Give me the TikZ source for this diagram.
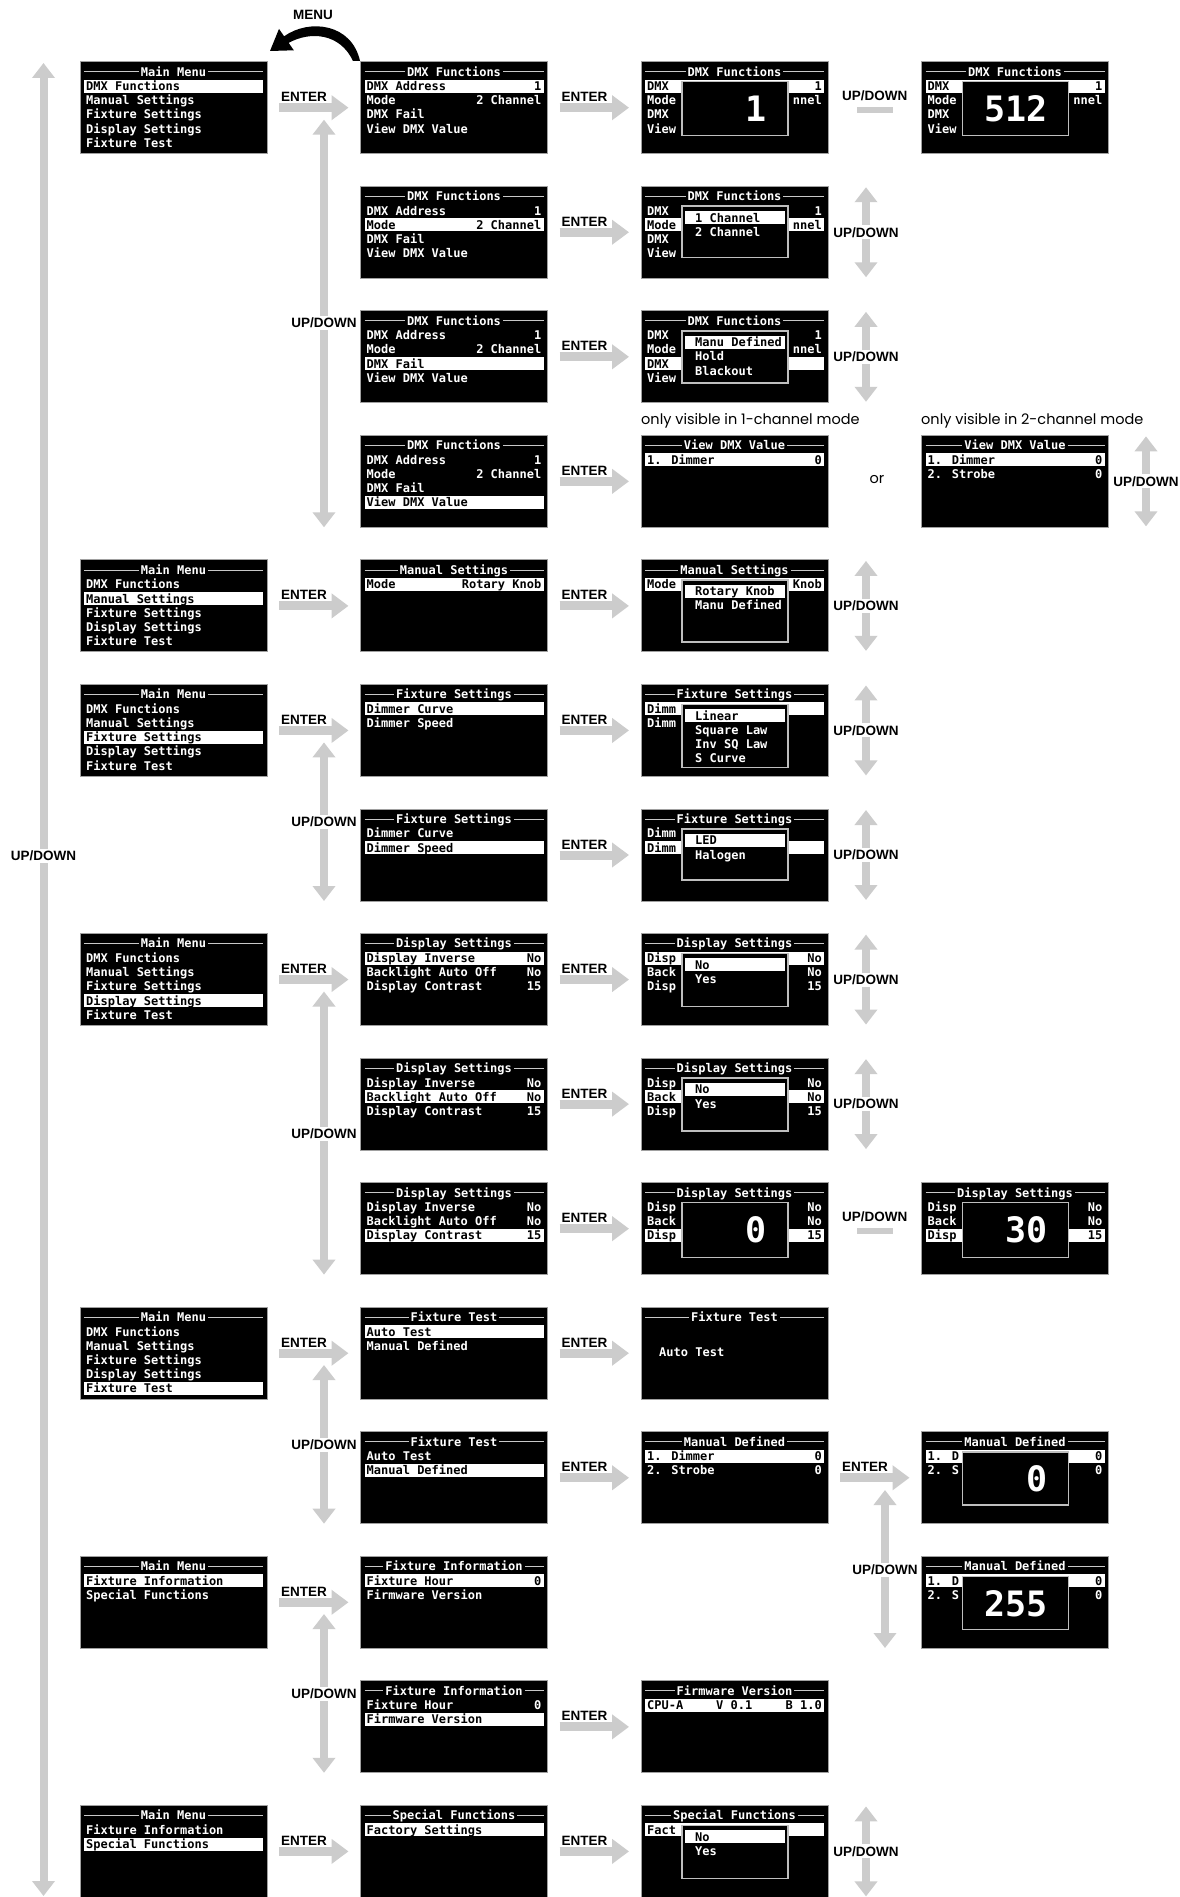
\documentclass[tikz,border=0pt]{standalone}
\usepackage{fontspec}
\setmainfont{Liberation Sans}
\newfontfamily\scrfont{DejaVu Sans Mono}
\newfontfamily\notefont{Poppins}
\usetikzlibrary{arrows.meta,calc}
\definecolor{agray}{RGB}{204,204,204}
\definecolor{bgray}{RGB}{160,160,160}
\definecolor{pgray}{RGB}{190,190,190}
\definecolor{tgray}{RGB}{200,200,200}
\tikzset{
 screen/.style={draw=bgray, fill=black, line width=1pt, minimum width=187pt, minimum height=92pt, inner sep=0pt, outer sep=0pt},
 txt/.style={text=white, font=\scrfont\bfseries\fontsize{12}{14}\selectfont, inner sep=0pt, text height=8.8pt, text depth=0pt},
 htxt/.style={txt, text=black},
 ttl/.style={txt, fill=black, inner xsep=2pt, inner ysep=1pt},
 bignum/.style={text=white, font=\scrfont\bfseries\fontsize{35}{35}\selectfont, inner sep=0pt},
 lbl/.style={font=\bfseries\fontsize{13.5}{14}\selectfont, inner sep=0pt},
 ulbl/.style={lbl, fill=white, inner xsep=0pt, inner ysep=2pt},
 note/.style={font=\notefont\fontsize{14.5}{15}\selectfont, inner sep=0pt},
 harrow/.style={draw=agray, line width=9pt, -{Triangle[length=17pt,width=24pt]}},
 varrow/.style={draw=agray, line width=8pt, {Triangle[length=15pt,width=22pt]}-{Triangle[length=15pt,width=22pt]}},
 udbar/.style={draw=agray, line width=6pt},
 popbox/.style={draw=pgray, line width=1.5pt, fill=black},
}
% screen: name, col, row, title
\newcommand\MkScr[4]{%
 \pgfmathsetmacro\scrX{80+(#2-1)*280.5}%
 \pgfmathsetmacro\scrY{61.7+(#3-1)*124.55}%
 \node[screen, anchor=north west] (#1) at (\scrX,\scrY) {};
 \draw[tgray, line width=0.8pt] ([xshift=4pt,yshift=-10pt]#1.north west) -- ([xshift=-4pt,yshift=-10pt]#1.north east);
 \node[ttl] at ([yshift=-10pt]#1.north) {#4};}
\newcommand\SLine[4]{%
 \pgfmathsetmacro\oy{24.5+(#2-1)*14.2}%
 \node[txt, anchor=west] at ([xshift=6pt,yshift=-\oy pt]#1.north west) {#3};
 \node[txt, anchor=east] at ([xshift=-6pt,yshift=-\oy pt]#1.north east) {#4};}
\newcommand\SHLine[4]{%
 \pgfmathsetmacro\oy{24.5+(#2-1)*14.2}%
 \fill[white] ([xshift=4pt,yshift=-\oy pt+6.5pt]#1.north west) rectangle ([xshift=-4pt,yshift=-\oy pt-6.5pt]#1.north east);
 \node[htxt, anchor=west] at ([xshift=6pt,yshift=-\oy pt]#1.north west) {#3};
 \node[htxt, anchor=east] at ([xshift=-6pt,yshift=-\oy pt]#1.north east) {#4};}
\newcommand\Row[5]{\ifnum#2=#3 \SHLine{#1}{#2}{#4}{#5}\else\SLine{#1}{#2}{#4}{#5}\fi}
\newcommand\SPop[2]{\draw[popbox] ([xshift=41pt,yshift=-20pt]#1.north west) rectangle ([xshift=147pt,yshift=-#2pt]#1.north west);}
\newcommand\SPItem[3]{%
 \pgfmathsetmacro\oy{31.4+(#2-1)*14.2}%
 \node[txt, anchor=west] at ([xshift=54pt,yshift=-\oy pt]#1.north west) {#3};}
\newcommand\SPHItem[3]{%
 \pgfmathsetmacro\oy{31.4+(#2-1)*14.2}%
 \fill[white] ([xshift=44pt,yshift=-\oy pt+6.5pt]#1.north west) rectangle ([xshift=144pt,yshift=-\oy pt-6.5pt]#1.north west);
 \node[htxt, anchor=west] at ([xshift=54pt,yshift=-\oy pt]#1.north west) {#3};}
\newcommand\SBig[2]{\node[bignum, anchor=base east] at ([xshift=126pt,yshift=-60pt]#1.north west) {#2};}
\newcommand\SEnter[2]{%
 \draw[harrow] ([xshift=12pt]#1.east) -- ([xshift=-12pt]#2.west);
 \node[lbl, anchor=base west] at ([xshift=14pt,yshift=6pt]#1.east) {ENTER};}
\newcommand\SUDBar[2]{%
 \draw[udbar] ([xshift=29pt,yshift=-2pt]#1.east) -- ([xshift=-29pt,yshift=-2pt]#2.west);
 \path ($(#1.east)!0.5!(#2.west)$) coordinate (#1m);
 \node[lbl] at ([yshift=12pt]#1m) {UP/DOWN};}
\newcommand\SVArr[5]{%
 \coordinate (#1a) at (#2,#3); \coordinate (#1b) at (#2,#4);
 \draw[varrow] (#1a) -- (#1b);
 \node[ulbl] at (#2,#5) {UP/DOWN};}
\newcommand\SRArr[2]{%
 \pgfmathsetmacro\ta{61.7+(#1-1)*124.55+1}%
 \pgfmathsetmacro\tb{\ta+90}%
 \pgfmathsetmacro\tc{\ta+45}%
 \coordinate (ra#1) at (#2,\ta); \coordinate (rb#1) at (#2,\tb);
 \draw[varrow] (ra#1) -- (rb#1);
 \node[ulbl] at (#2,\tc) {UP/DOWN};}
% screen types: name col row highlighted-line
\newcommand\MainA[4]{\MkScr{#1}{#2}{#3}{Main Menu}\Row{#1}{1}{#4}{DMX Functions}{}\Row{#1}{2}{#4}{Manual Settings}{}\Row{#1}{3}{#4}{Fixture Settings}{}\Row{#1}{4}{#4}{Display Settings}{}\Row{#1}{5}{#4}{Fixture Test}{}}
\newcommand\MainB[4]{\MkScr{#1}{#2}{#3}{Main Menu}\Row{#1}{1}{#4}{Fixture Information}{}\Row{#1}{2}{#4}{Special Functions}{}}
\newcommand\DmxF[4]{\MkScr{#1}{#2}{#3}{DMX Functions}\Row{#1}{1}{#4}{DMX Address}{1}\Row{#1}{2}{#4}{Mode}{2 Channel}\Row{#1}{3}{#4}{DMX Fail}{}\Row{#1}{4}{#4}{View DMX Value}{}}
\newcommand\DmxP[4]{\MkScr{#1}{#2}{#3}{DMX Functions}\Row{#1}{1}{#4}{DMX}{1}\Row{#1}{2}{#4}{Mode}{nnel}\Row{#1}{3}{#4}{DMX}{}\Row{#1}{4}{#4}{View}{}}
\newcommand\FixS[4]{\MkScr{#1}{#2}{#3}{Fixture Settings}\Row{#1}{1}{#4}{Dimmer Curve}{}\Row{#1}{2}{#4}{Dimmer Speed}{}}
\newcommand\FixSP[4]{\MkScr{#1}{#2}{#3}{Fixture Settings}\Row{#1}{1}{#4}{Dimm}{}\Row{#1}{2}{#4}{Dimm}{}}
\newcommand\DispS[4]{\MkScr{#1}{#2}{#3}{Display Settings}\Row{#1}{1}{#4}{Display Inverse}{No}\Row{#1}{2}{#4}{Backlight Auto Off}{No}\Row{#1}{3}{#4}{Display Contrast}{15}}
\newcommand\DispSP[4]{\MkScr{#1}{#2}{#3}{Display Settings}\Row{#1}{1}{#4}{Disp}{No}\Row{#1}{2}{#4}{Back}{No}\Row{#1}{3}{#4}{Disp}{15}}
\newcommand\FixT[4]{\MkScr{#1}{#2}{#3}{Fixture Test}\Row{#1}{1}{#4}{Auto Test}{}\Row{#1}{2}{#4}{Manual Defined}{}}
\newcommand\ManD[4]{\MkScr{#1}{#2}{#3}{Manual Defined}\Row{#1}{1}{#4}{1. Dimmer}{0}\Row{#1}{2}{#4}{2. Strobe}{0}}
\newcommand\ManDP[4]{\MkScr{#1}{#2}{#3}{Manual Defined}\Row{#1}{1}{#4}{1. D}{0}\Row{#1}{2}{#4}{2. S}{0}}
\newcommand\FixI[4]{\MkScr{#1}{#2}{#3}{Fixture Information}\Row{#1}{1}{#4}{Fixture Hour}{0}\Row{#1}{2}{#4}{Firmware Version}{}}

\begin{document}
\begin{tikzpicture}[x=1pt,y=-1pt]
\fill[white, use as bounding box] (0,0) rectangle (1179,1897);

% ---------- screens ----------
\MainA{r1c1}{1}{1}{1}
\DmxF{r1c2}{2}{1}{1}
\DmxP{r1c3}{3}{1}{1}\SPop{r1c3}{74}\SBig{r1c3}{1}
\DmxP{r1c4}{4}{1}{1}\SPop{r1c4}{74}\SBig{r1c4}{512}
\DmxF{r2c2}{2}{2}{2}
\DmxP{r2c3}{3}{2}{2}\SPop{r2c3}{71}\SPHItem{r2c3}{1}{1 Channel}\SPItem{r2c3}{2}{2 Channel}
\DmxF{r3c2}{2}{3}{3}
\DmxP{r3c3}{3}{3}{3}\SPop{r3c3}{72}\SPHItem{r3c3}{1}{Manu Defined}\SPItem{r3c3}{2}{Hold}\SPItem{r3c3}{3}{Blackout}
\DmxF{r4c2}{2}{4}{4}
\MkScr{r4c3}{3}{4}{View DMX Value}\SHLine{r4c3}{1}{1. Dimmer}{0}
\MkScr{r4c4}{4}{4}{View DMX Value}\SHLine{r4c4}{1}{1. Dimmer}{0}\SLine{r4c4}{2}{2. Strobe}{0}
\MainA{r5c1}{1}{5}{2}
\MkScr{r5c2}{2}{5}{Manual Settings}\SHLine{r5c2}{1}{Mode}{Rotary Knob}
\MkScr{r5c3}{3}{5}{Manual Settings}\SHLine{r5c3}{1}{Mode}{Knob}\SPop{r5c3}{82}\SPHItem{r5c3}{1}{Rotary Knob}\SPItem{r5c3}{2}{Manu Defined}
\MainA{r6c1}{1}{6}{3}
\FixS{r6c2}{2}{6}{1}
\FixSP{r6c3}{3}{6}{1}\SPop{r6c3}{83}\SPHItem{r6c3}{1}{Linear}\SPItem{r6c3}{2}{Square Law}\SPItem{r6c3}{3}{Inv SQ Law}\SPItem{r6c3}{4}{S Curve}
\FixS{r7c2}{2}{7}{2}
\FixSP{r7c3}{3}{7}{2}\SPop{r7c3}{71}\SPHItem{r7c3}{1}{LED}\SPItem{r7c3}{2}{Halogen}
\MainA{r8c1}{1}{8}{4}
\DispS{r8c2}{2}{8}{1}
\DispSP{r8c3}{3}{8}{1}\SPop{r8c3}{73}\SPHItem{r8c3}{1}{No}\SPItem{r8c3}{2}{Yes}
\DispS{r9c2}{2}{9}{2}
\DispSP{r9c3}{3}{9}{2}\SPop{r9c3}{73}\SPHItem{r9c3}{1}{No}\SPItem{r9c3}{2}{Yes}
\DispS{r10c2}{2}{10}{3}
\DispSP{r10c3}{3}{10}{3}\SPop{r10c3}{75}\SBig{r10c3}{0}
\DispSP{r10c4}{4}{10}{3}\SPop{r10c4}{75}\SBig{r10c4}{30}
\MainA{r11c1}{1}{11}{5}
\FixT{r11c2}{2}{11}{1}
\MkScr{r11c3}{3}{11}{Fixture Test}\node[txt,anchor=west] at ([xshift=18pt,yshift=-45pt]r11c3.north west) {Auto Test};
\FixT{r12c2}{2}{12}{2}
\ManD{r12c3}{3}{12}{1}
\ManDP{r12c4}{4}{12}{1}\SPop{r12c4}{73}\SBig{r12c4}{0}
\MainB{r13c1}{1}{13}{1}
\FixI{r13c2}{2}{13}{1}
\ManDP{r13c4}{4}{13}{1}\SPop{r13c4}{73}\SBig{r13c4}{255}
\FixI{r14c2}{2}{14}{2}
\MkScr{r14c3}{3}{14}{Firmware Version}\SHLine{r14c3}{1}{CPU-A}{B 1.0}\node[htxt,anchor=west] at ([xshift=75pt,yshift=-24.5pt]r14c3.north west) {V 0.1};
\MainB{r15c1}{1}{15}{2}
\MkScr{r15c2}{2}{15}{Special Functions}\SHLine{r15c2}{1}{Factory Settings}{}
\MkScr{r15c3}{3}{15}{Special Functions}\SHLine{r15c3}{1}{Fact}{}\SPop{r15c3}{73}\SPHItem{r15c3}{1}{No}\SPItem{r15c3}{2}{Yes}

% ---------- ENTER arrows ----------
\SEnter{r1c1}{r1c2}\SEnter{r1c2}{r1c3}
\SEnter{r2c2}{r2c3}\SEnter{r3c2}{r3c3}\SEnter{r4c2}{r4c3}
\SEnter{r5c1}{r5c2}\SEnter{r5c2}{r5c3}
\SEnter{r6c1}{r6c2}\SEnter{r6c2}{r6c3}\SEnter{r7c2}{r7c3}
\SEnter{r8c1}{r8c2}\SEnter{r8c2}{r8c3}\SEnter{r9c2}{r9c3}\SEnter{r10c2}{r10c3}
\SEnter{r11c1}{r11c2}\SEnter{r11c2}{r11c3}\SEnter{r12c2}{r12c3}\SEnter{r12c3}{r12c4}
\SEnter{r13c1}{r13c2}\SEnter{r14c2}{r14c3}
\SEnter{r15c1}{r15c2}\SEnter{r15c2}{r15c3}
\SUDBar{r1c3}{r1c4}\SUDBar{r10c3}{r10c4}

% ---------- UP/DOWN vertical arrows ----------
\SVArr{big}{43.5}{63}{1896}{856}
\SVArr{va}{324}{119.7}{527.3}{323}
\SVArr{vb}{324}{742.4}{901}{822}
\SVArr{vc}{324}{991.5}{1274.6}{1134}
\SVArr{vd}{324}{1365}{1523.7}{1445}
\SVArr{ve}{324}{1614}{1772.8}{1694}
\SVArr{vf}{885}{1490}{1648}{1570}
\SRArr{2}{866}\SRArr{3}{866}\SRArr{5}{866}\SRArr{6}{866}
\SRArr{7}{866}\SRArr{8}{866}\SRArr{9}{866}\SRArr{15}{866}
\SRArr{4}{1146}

% ---------- notes ----------
\node[note, anchor=west] (n1) at (641,421) {only visible in 1-channel mode};
\node[note, anchor=west] (n2) at (921,421) {only visible in 2-channel mode};
\node[note] (orr) at (877,480) {or};

% ---------- MENU arrow ----------
\fill[black] (360,61) .. controls (352,24) and (310,18) .. (284.1,36.3) -- (279,28.9) -- (270,51) -- (293.8,50.3) -- (288.7,42.9) .. controls (310,31) and (340,33) .. (353,61) -- cycle;
\node[lbl] (menu) at (313,15) {MENU};
\end{tikzpicture}
\end{document}
